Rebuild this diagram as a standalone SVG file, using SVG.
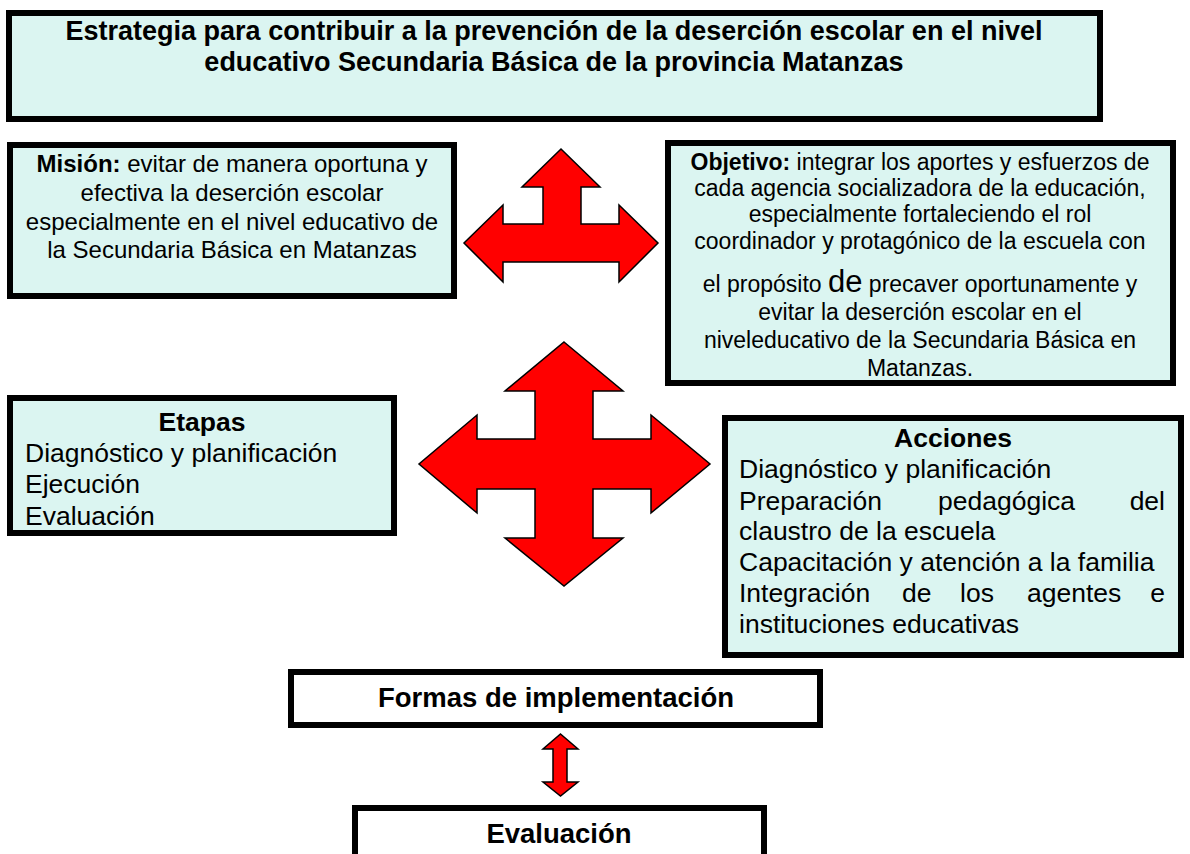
<svg xmlns="http://www.w3.org/2000/svg" width="1190" height="854" viewBox="0 0 1190 854">
<style>
text{font-family:"Liberation Sans",Arial,sans-serif;fill:#000}
.box{fill:#dbf5f1;stroke:#000;stroke-width:6}
.wbox{fill:#fff;stroke:#000;stroke-width:6}
.arrow{fill:#ff0000;stroke:#000;stroke-width:1.5;stroke-linejoin:miter}
.b{font-weight:bold}
.t{font-size:27px;font-weight:bold}
.m{font-size:24px}
.o{font-size:23px}
.l{font-size:26.5px}
.f{font-size:27.5px;font-weight:bold}
</style>
<rect width="1190" height="854" fill="#fff"/>
<g id="title">
<rect class="box" x="9" y="13" width="1091" height="106"/>
<text class="t" x="554" y="40" text-anchor="middle">Estrategia para contribuir a la prevención de la deserción escolar en el nivel</text>
<text class="t" x="554" y="71" text-anchor="middle">educativo Secundaria Básica de la provincia Matanzas</text>
</g>
<g id="mision">
<rect class="box" x="10" y="145" width="444" height="151"/>
<text class="m" x="232" y="172" text-anchor="middle"><tspan class="b">Misión:</tspan> evitar de manera oportuna y</text>
<text class="m" x="232" y="201" text-anchor="middle">efectiva la deserción escolar</text>
<text class="m" x="232" y="230" text-anchor="middle">especialmente en el nivel educativo de</text>
<text class="m" x="232" y="258" text-anchor="middle">la Secundaria Básica en Matanzas</text>
</g>
<g id="objetivo">
<rect class="box" x="668" y="143" width="505" height="240"/>
<text class="o" x="920" y="170" text-anchor="middle"><tspan class="b">Objetivo:</tspan> integrar los aportes y esfuerzos de</text>
<text class="o" x="920" y="196" text-anchor="middle">cada agencia socializadora de la educación,</text>
<text class="o" x="920" y="222" text-anchor="middle">especialmente fortaleciendo el rol</text>
<text class="o" x="920" y="249" text-anchor="middle">coordinador y protagónico de la escuela con</text>
<text class="o" x="920" y="292" text-anchor="middle">el propósito <tspan font-size="31">de</tspan> precaver oportunamente y</text>
<text class="o" x="920" y="320" text-anchor="middle">evitar la deserción escolar en el</text>
<text class="o" x="920" y="348" text-anchor="middle">niveleducativo de la Secundaria Básica en</text>
<text class="o" x="920" y="376" text-anchor="middle">Matanzas.</text>
</g>
<g id="etapas">
<rect class="box" x="10" y="398" width="384" height="135"/>
<text class="l b" x="202" y="431" text-anchor="middle">Etapas</text>
<text class="l" x="25" y="462">Diagnóstico y planificación</text>
<text class="l" x="25" y="493">Ejecución</text>
<text class="l" x="25" y="525">Evaluación</text>
</g>
<g id="acciones">
<rect class="box" x="725" y="418" width="456" height="237"/>
<text class="l b" x="953" y="447" text-anchor="middle">Acciones</text>
<text class="l" x="739" y="478">Diagnóstico y planificación</text>
<text class="l" y="510"><tspan x="739">Preparación</tspan><tspan x="938">pedagógica</tspan></text>
<text class="l" x="1165" y="510" text-anchor="end">del</text>
<text class="l" x="739" y="540">claustro de la escuela</text>
<text class="l" x="739" y="571">Capacitación y atención a la familia</text>
<text class="l" y="602"><tspan x="739">Integración</tspan><tspan x="902">de</tspan><tspan x="960">los</tspan><tspan x="1027">agentes</tspan></text>
<text class="l" x="1165" y="602" text-anchor="end">e</text>
<text class="l" x="739" y="633">instituciones educativas</text>
</g>
<g id="formas">
<rect class="wbox" x="291" y="672" width="529" height="53"/>
<text class="f" x="556" y="707" text-anchor="middle">Formas de implementación</text>
</g>
<g id="evaluacion">
<rect class="wbox" x="355" y="808" width="409" height="60"/>
<text class="f" x="559" y="843" text-anchor="middle">Evaluación</text>
</g>
<g id="connectors">
<polygon class="arrow" points="561,149 600,187 581,187 581,224 619,224 619,205 658,243 619,282 619,262 503,262 503,282 464,243 503,205 503,224 543,224 543,187 522,187"/>
<polygon class="arrow" points="564,342 623,391 593,391 593,439 651,439 651,415 710,464 651,513 651,489 593,489 593,538 623,538 564,586 505,538 535,538 535,489 477,489 477,513 419,464 477,415 477,439 535,439 535,391 505,391"/>
<polygon class="arrow" stroke-width="2" points="560.5,734 578,749 567,749 567,782 578,782 560.5,796 543,782 553,782 553,749 543,749"/>
</g>
</svg>
